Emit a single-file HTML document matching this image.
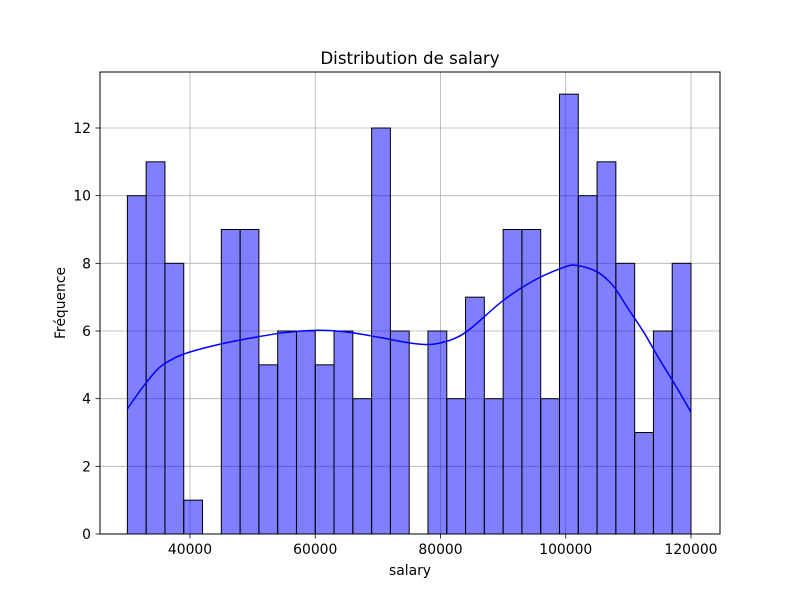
<!DOCTYPE html>
<html><head><meta charset="utf-8"><style>
body{margin:0;background:#fff}
svg{display:block;font-family:"DejaVu Sans","Liberation Sans",sans-serif}
</style></head><body>
<svg id="chart" width="800" height="600">
<rect x="0" y="0" width="800" height="600" fill="#fff"/>
<g id="grid"></g>
<g id="bars"></g>
<path id="kde" fill="none" stroke="#0000ff" stroke-width="1.5"/>
<rect x="100" y="72" width="620" height="462" fill="none" stroke="#000" stroke-width="1"/>
<g id="ticks" font-size="13.9"></g>
<text x="410" y="64" text-anchor="middle" font-size="16.7">Distribution de salary</text>
<text x="410" y="575" text-anchor="middle" font-size="13.9">salary</text>
<text transform="translate(65,303) rotate(-90)" text-anchor="middle" font-size="13.9">Fréquence</text>
</svg>
<script>
const binStart = 30000;
const binWidth = 3000;
const counts = [10,11,8,1,0,9,9,5,6,6,5,6,4,12,6,0,6,4,7,4,9,9,4,13,10,11,8,3,6,8];
const xTicks = [40000,60000,80000,100000,120000];
const yTicks = [0,2,4,6,8,10,12];
const kdeX = [30000,32500,35000,37500,40000,45000,50000,55000,60000,65000,70000,75000,78000,80000,82500,85000,90000,95000,100000,102000,105000,107500,110000,112500,115000,117500,120000];
const kdeY = [3.7,4.35,4.9,5.2,5.38,5.62,5.8,5.95,6.02,5.97,5.82,5.65,5.6,5.65,5.8,6.1,6.9,7.5,7.9,7.93,7.75,7.35,6.65,5.95,5.15,4.4,3.6];
const NS='http://www.w3.org/2000/svg';
const xs = v => 190 + (v-40000)*(501/80000);
const ys = v => 534 - v*(406/12);
const grid=document.getElementById('grid'), bars=document.getElementById('bars'), ticks=document.getElementById('ticks');
function mk(tag,attrs,parent){const e=document.createElementNS(NS,tag);for(const k in attrs)e.setAttribute(k,attrs[k]);parent.appendChild(e);return e;}
xTicks.forEach(t=>{
  const g=mk('line',{x1:xs(t),x2:xs(t),y1:72,y2:534,stroke:'#b0b0b0','stroke-width':0.8},grid);
  
  
  mk('line',{x1:xs(t),x2:xs(t),y1:534,y2:538.5,stroke:'#000','stroke-width':0.8},ticks);
  const l=mk('text',{x:xs(t),y:554,'text-anchor':'middle'},ticks);
  l.textContent=t;
  
  
});
yTicks.forEach(t=>{
  const g=mk('line',{x1:100,x2:720,y1:ys(t),y2:ys(t),stroke:'#b0b0b0','stroke-width':0.8},grid);
  
  
  mk('line',{x1:95.5,x2:100,y1:ys(t),y2:ys(t),stroke:'#000','stroke-width':0.8},ticks);
  const l=mk('text',{x:91,y:ys(t)+5,'text-anchor':'end'},ticks);
  l.textContent=t;
  
  
});
counts.forEach((c,i)=>{
  if(c<=0)return;
  const x0=xs(binStart+i*binWidth), x1=xs(binStart+(i+1)*binWidth);
  const r=mk('rect',{x:x0,y:ys(c),width:x1-x0,height:ys(0)-ys(c),fill:'rgba(0,0,255,0.5)',stroke:'#000','stroke-width':1},bars);
  
  
});
// smooth Catmull-Rom path through KDE points
const P=kdeX.map((v,i)=>[xs(v),ys(kdeY[i])]);
let d='M'+P[0][0]+','+P[0][1];
for(let i=0;i<P.length-1;i++){
  const p0=P[Math.max(0,i-1)],p1=P[i],p2=P[i+1],p3=P[Math.min(P.length-1,i+2)];
  const c1=[p1[0]+(p2[0]-p0[0])/6,p1[1]+(p2[1]-p0[1])/6];
  const c2=[p2[0]-(p3[0]-p1[0])/6,p2[1]-(p3[1]-p1[1])/6];
  d+=` C${c1[0]},${c1[1]} ${c2[0]},${c2[1]} ${p2[0]},${p2[1]}`;
}
document.getElementById('kde').setAttribute('d',d);
</script>
</body></html>
